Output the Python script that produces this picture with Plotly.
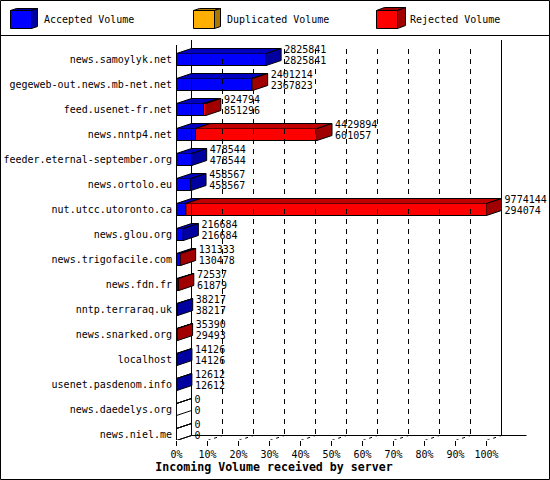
import plotly.graph_objects as go

servers = ["news.samoylyk.net", "gegeweb-out.news.mb-net.net", "feed.usenet-fr.net", "news.nntp4.net",
           "feeder.eternal-september.org", "news.ortolo.eu", "nut.utcc.utoronto.ca", "news.glou.org",
           "news.trigofacile.com", "news.fdn.fr", "nntp.terraraq.uk", "news.snarked.org",
           "localhost", "usenet.pasdenom.info", "news.daedelys.org", "news.niel.me"]
total_volume = [2825841, 2401214, 924794, 4429894, 478544, 458567, 9774144, 216684,
                131333, 72537, 38217, 35390, 14126, 12612, 0, 0]
accepted_volume = [2825841, 2367823, 851296, 601057, 478544, 458567, 294074, 216684,
                   130478, 61879, 38217, 29493, 14126, 12612, 0, 0]
legend_names = ["Accepted Volume", "Duplicated Volume", "Rejected Volume"]
pct_ticks = [0, 10, 20, 30, 40, 50, 60, 70, 80, 90, 100]

FONT = "DejaVu Sans Mono"
BLUE, BLUE_TOP, BLUE_SIDE = "#0000ff", "#0000c0", "#0000a0"
RED, RED_TOP, RED_SIDE = "#ff0000", "#c00000", "#a00000"
ORANGE, ORANGE_SIDE = "#ffb000", "#aa7700"

# plot area in pixels, 3d depth of the bars in axis units
L, R, T, B = 176, 2, 37, 40
PX_PCT = 3.1
PX_ROW = 25
DX = 15 / PX_PCT
DY = 5 / PX_ROW
HALF = 6 / PX_ROW
n = len(servers)

top = max(total_volume)
accepted_pct = [v / top * 100 for v in accepted_volume]
total_pct = [v / top * 100 for v in total_volume]
rejected_pct = [t - a for t, a in zip(total_pct, accepted_pct)]
rows = list(range(n))


def paper_x(px):
    return (px - L) / (550 - L - R)


def paper_y(py):
    return (480 - B - py) / (480 - T - B)


fig = go.Figure()


def poly(xs, ys, fill):
    fig.add_trace(go.Scatter(x=xs, y=ys, mode="lines", fill="toself", fillcolor=fill,
                             line=dict(color="black", width=1), hoverinfo="skip", showlegend=False))


def line(xs, ys, dash="solid"):
    fig.add_trace(go.Scatter(x=xs, y=ys, mode="lines", line=dict(color="black", width=1, dash=dash),
                             hoverinfo="skip", showlegend=False, cliponaxis=False))


floor_front = n - 1 + HALF
floor_back = floor_front - DY

# back wall grid and floor
for p in pct_ticks:
    if p in (0, 100):
        line([p + DX, p + DX], [-0.78, floor_back])
    else:
        line([p + DX, p + DX], [-0.42, floor_back], "5px,5px")
    line([p, p + DX], [floor_front, floor_back], "3px,4px" if p else "solid")
line([0, 100], [floor_front, floor_front])
line([DX, 100 + DX + 25 / PX_PCT], [floor_back, floor_back])
line([0, 0], [floor_front, -0.58])

# depth faces of the bars
for i in rows:
    y0, y1 = i - HALF, i + HALF
    a, t = accepted_pct[i], total_pct[i]
    poly([0, DX, a + DX, a], [y0, y0 - DY, y0 - DY, y0], BLUE_TOP)
    if t > a:
        poly([a, a + DX, t + DX, t], [y0, y0 - DY, y0 - DY, y0], RED_TOP)
    side = RED_SIDE if t > a else (BLUE_SIDE if t > 0 else "rgba(0,0,0,0)")
    poly([t, t + DX, t + DX, t], [y0, y0 - DY, y1 - DY, y1], side)

# front faces
fig.add_trace(go.Bar(x=accepted_pct, y=rows, orientation="h", width=2 * HALF, name=legend_names[0],
                     marker=dict(color=BLUE, line=dict(color="black", width=1)), hoverinfo="skip"))
fig.add_trace(go.Bar(x=rejected_pct, y=rows, base=accepted_pct, orientation="h", width=2 * HALF, name=legend_names[2],
                     marker=dict(color=RED, line=dict(color="black", width=1)), hoverinfo="skip"))

# values next to the bars
fig.add_trace(go.Scatter(x=[t + DX + 1.0 for t in total_pct], y=[i - 9.0 / PX_ROW for i in rows],
                         text=[str(v) for v in total_volume], mode="text", textposition="middle right",
                         textfont=dict(family=FONT, size=10, color="black"), hoverinfo="skip", cliponaxis=False))
fig.add_trace(go.Scatter(x=[t + DX + 1.0 for t in total_pct], y=[i + 2.0 / PX_ROW for i in rows],
                         text=[str(v) for v in accepted_volume], mode="text", textposition="middle right",
                         textfont=dict(family=FONT, size=10, color="black"), hoverinfo="skip", cliponaxis=False))

# legend row and frame
shapes = []


def box(x0, y0, x1, y1, fill):
    shapes.append(dict(type="rect", xref="paper", yref="paper", x0=paper_x(x0), x1=paper_x(x1),
                       y0=paper_y(y0), y1=paper_y(y1), fillcolor=fill, line=dict(color="black", width=1)))


def path(points, fill):
    d = "M " + " L ".join(f"{paper_x(x)},{paper_y(y)}" for x, y in points) + " Z"
    shapes.append(dict(type="path", xref="paper", yref="paper", path=d, fillcolor=fill,
                       line=dict(color="black", width=1)))


annotations = []
for name, left, ddx, ddy, front, side in zip(legend_names, [10.5, 193.5, 376.5], [6, 6, 8], [2, 2, 3],
                                             [BLUE, ORANGE, RED], [BLUE_SIDE, ORANGE_SIDE, RED_SIDE]):
    path([(left, 10.5), (left + ddx, 10.5 - ddy), (left + 21 + ddx, 10.5 - ddy), (left + 21, 10.5)], side)
    path([(left + 21, 10.5), (left + 21 + ddx, 10.5 - ddy), (left + 21 + ddx, 28.5 - ddy), (left + 21, 28.5)], side)
    box(left, 10.5, left + 21, 28.5, front)
    annotations.append(dict(xref="paper", yref="paper", x=paper_x(left + 31), y=paper_y(20), text=name,
                            showarrow=False, xanchor="left", yanchor="middle",
                            font=dict(family=FONT, size=10, color="black")))

shapes.append(dict(type="line", xref="paper", yref="paper", x0=paper_x(0), x1=paper_x(550),
                   y0=paper_y(35.5), y1=paper_y(35.5), line=dict(color="black", width=1)))
box(0.5, 0.5, 549.5, 479.5, "rgba(0,0,0,0)")

fig.update_layout(
    width=550, height=480, margin=dict(l=L, r=R, t=T, b=B, pad=0),
    paper_bgcolor="white", plot_bgcolor="white", barmode="overlay", showlegend=False,
    shapes=shapes, annotations=annotations,
    title=dict(text="<b>Incoming Volume received by server</b>", x=274 / 550, y=1 - 467 / 480,
               xanchor="center", yanchor="middle", font=dict(family=FONT, size=11.6, color="black")),
    xaxis=dict(range=[-0.5 / PX_PCT, (550 - L - R - 0.5) / PX_PCT], showgrid=False, zeroline=False, showline=False,
               tickvals=pct_ticks, ticktext=[f"{p}%" for p in pct_ticks], ticks="outside", ticklen=5, tickwidth=1,
               tickcolor="black", tickfont=dict(family=FONT, size=10, color="black")),
    yaxis=dict(range=[(480 - B - 59.5) / PX_ROW, (T - 59.5) / PX_ROW], showgrid=False, zeroline=False, showline=False,
               tickvals=rows, ticktext=servers, ticks="outside", ticklen=1, tickcolor="white",
               tickfont=dict(family=FONT, size=10, color="black")),
)

# the page margin would push the chart out of the window
fig.write_html("out.html", config={"displayModeBar": False}, post_script="document.body.style.margin='0';")
